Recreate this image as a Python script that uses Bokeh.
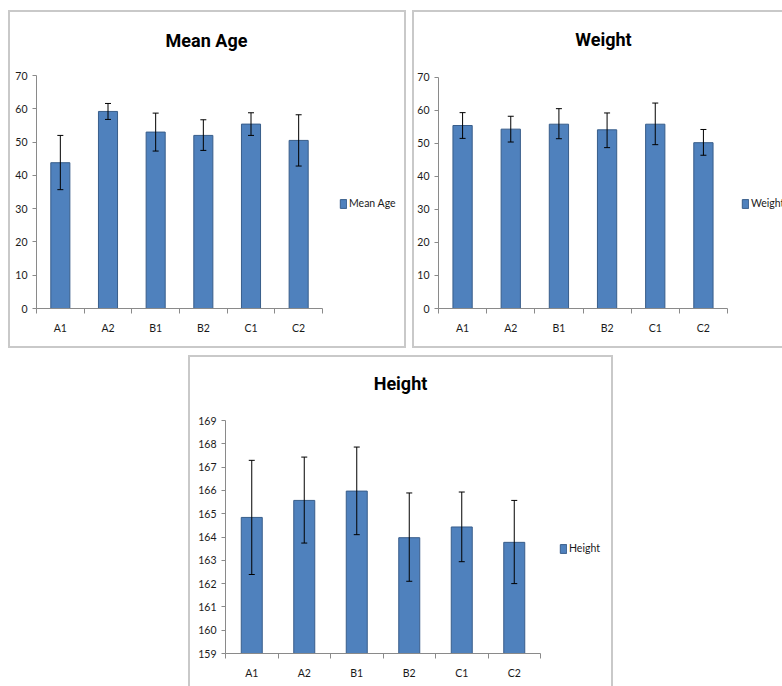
from bokeh.plotting import figure
from bokeh.models import (ColumnDataSource, Range1d, FixedTicker, Whisker, TeeHead,
                          Legend, LegendItem, Spacer, Label)
from bokeh.layouts import row, column
from bokeh.embed import file_html
from bokeh.resources import INLINE

groups = ["A1", "A2", "B1", "B2", "C1", "C2"]

age_mean = [43.8, 59.2, 53.0, 52.0, 55.4, 50.5]
age_upper = [52.0, 61.6, 58.7, 56.7, 58.8, 58.2]
age_lower = [35.7, 56.8, 47.3, 47.5, 52.0, 42.8]

weight_mean = [55.4, 54.3, 55.8, 54.1, 55.8, 50.2]
weight_upper = [59.3, 58.2, 60.5, 59.2, 62.2, 54.2]
weight_lower = [51.5, 50.4, 51.4, 48.7, 49.6, 46.4]

height_mean = [164.84, 165.57, 165.97, 163.97, 164.43, 163.77]
height_upper = [167.29, 167.43, 167.86, 165.89, 165.93, 165.57]
height_lower = [162.39, 163.74, 164.10, 162.10, 162.94, 162.00]

age_ticks = list(range(0, 71, 10))
weight_ticks = list(range(0, 71, 10))
height_ticks = list(range(159, 170, 1))

BAR = "#4F81BD"
BAR_LINE = "#385D8A"
AXIS = "#8a8a8a"
TICK_FONT = "Lato"
TICK_SIZE = "10.5px"
TITLE_FONT = "Roboto"
BORDER = "2px solid #c9c9c9"


def panel(title, means, upper, lower, yticks, W, H, axes_px, frame_right, frame_top,
          title_pos, legend_pos, sides):
    """axes_px = (left, right, top, bottom) pixel edges of the axis box in the canvas."""
    ax_l, ax_r, ax_t, ax_b = axes_px
    n = len(groups)
    xs = [i + 0.5 for i in range(n)]
    src = ColumnDataSource(dict(x=xs, top=means, upper=upper, lower=lower))
    y0, y1 = yticks[0], yticks[-1]
    # the frame also covers the title and legend areas; the axes are bounded
    x_end = n * (frame_right - ax_l) / (ax_r - ax_l)
    y_end = y0 + (y1 - y0) * (ax_b - frame_top) / (ax_b - ax_t)
    p = figure(width=W, height=H, output_backend="svg", toolbar_location=None,
               x_range=Range1d(0, x_end), y_range=Range1d(y0, y_end),
               min_border_left=ax_l, min_border_right=W - frame_right,
               min_border_top=frame_top, min_border_bottom=H - ax_b)
    p.grid.visible = False
    p.outline_line_color = None
    p.background_fill_color = "white"
    p.border_fill_color = "white"

    bars = p.vbar(x="x", top="top", bottom=y0, width=0.4, source=src,
                  fill_color=BAR, line_color=BAR_LINE, line_width=1)
    wh = Whisker(source=src, base="x", upper="upper", lower="lower",
                 level="overlay", line_color="black", line_width=1,
                 upper_head=TeeHead(size=6, line_color="black", line_width=1),
                 lower_head=TeeHead(size=6, line_color="black", line_width=1))
    p.add_layout(wh)

    xa = p.xaxis[0]
    xa.bounds = (0, n)
    xa.ticker = FixedTicker(ticks=xs, minor_ticks=list(range(n + 1)))
    xa.major_label_overrides = {x: g for x, g in zip(xs, groups)}
    xa.major_tick_line_color = None
    xa.major_tick_out = 0
    xa.major_tick_in = 0
    xa.minor_tick_out = 5
    xa.minor_tick_in = 0
    xa.minor_tick_line_color = AXIS
    xa.axis_line_color = AXIS
    xa.major_label_standoff = 8
    xa.major_label_text_font = TICK_FONT
    xa.major_label_text_font_size = TICK_SIZE
    xa.major_label_text_color = "#1a1a1a"

    ya = p.yaxis[0]
    ya.bounds = (y0, y1)
    ya.ticker = FixedTicker(ticks=yticks)
    ya.minor_tick_line_color = None
    ya.major_tick_out = 4
    ya.major_tick_in = 0
    ya.major_tick_line_color = AXIS
    ya.axis_line_color = AXIS
    ya.major_label_standoff = 5
    ya.major_label_text_font = TICK_FONT
    ya.major_label_text_font_size = TICK_SIZE
    ya.major_label_text_color = "#1a1a1a"

    p.add_layout(Label(x=title_pos[0], y=title_pos[1], x_units="screen", y_units="screen",
                       text=title, text_font=TITLE_FONT, text_font_style="bold",
                       text_font_size="18px", text_color="black",
                       text_align="center", text_baseline="middle"))

    leg = Legend(items=[LegendItem(label=title, renderers=[bars])],
                 location=legend_pos, glyph_width=8, glyph_height=11,
                 label_text_font=TICK_FONT, label_text_font_size=TICK_SIZE,
                 label_text_color="#1a1a1a", label_standoff=2, label_height=9,
                 padding=0, margin=0, spacing=0,
                 border_line_color=None, background_fill_alpha=0)
    p.add_layout(leg)

    css = ":host::after{content:'';position:absolute;left:0;top:0;right:0;bottom:0;" \
          "pointer-events:none;box-sizing:border-box;z-index:10;" + \
          "".join("border-%s:%s;" % (s, BORDER) for s in sides) + "}"
    p.stylesheets = [css]
    return p


p1 = panel("Mean Age", age_mean, age_upper, age_lower, age_ticks,
           398, 338, (28, 314, 65, 298), 395, 3, (170, 268), (303, 99),
           ["top", "left", "right", "bottom"])
p2 = panel("Weight", weight_mean, weight_upper, weight_lower, weight_ticks,
           370, 338, (26, 315, 67, 299), 370, 3, (165, 269), (303, 99),
           ["top", "left", "bottom"])
p3 = panel("Height", height_mean, height_upper, height_lower, height_ticks,
           425, 331, (37, 352, 65, 298), 422, 3, (175, 270), (334, 99),
           ["top", "left", "right"])

layout = column(
    Spacer(height=10),
    row(Spacer(width=8), p1, Spacer(width=6), p2),
    Spacer(height=7),
    row(Spacer(width=188), p3),
)

open("out.html", "w").write(file_html(layout, INLINE))
